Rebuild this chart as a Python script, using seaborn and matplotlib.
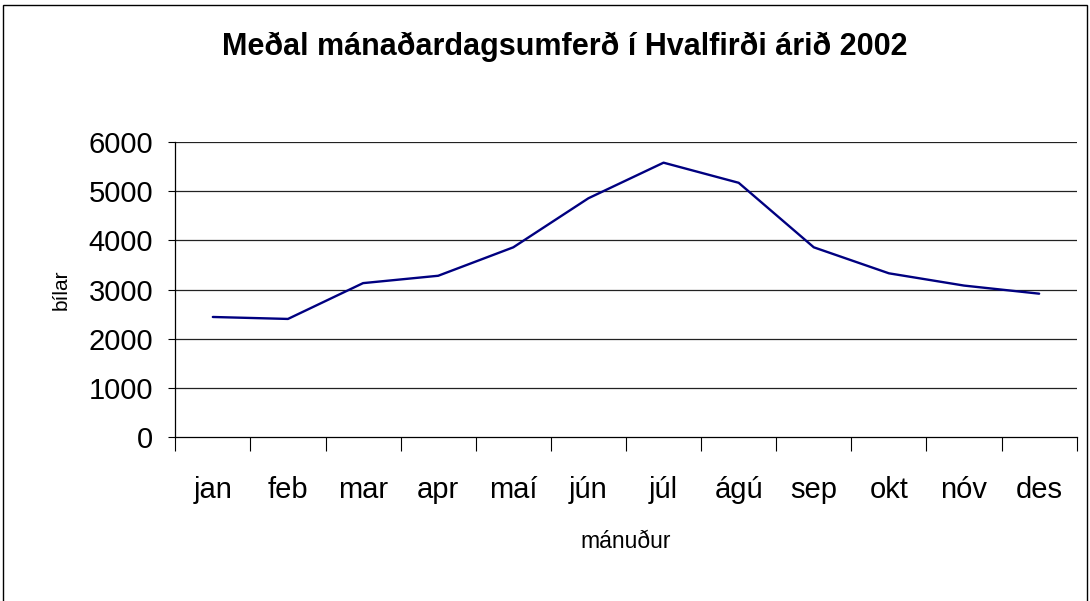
import matplotlib
matplotlib.use("Agg")
import matplotlib.pyplot as plt
import seaborn as sns
import numpy as np
import pandas as pd
from matplotlib.patches import Rectangle

# monthly average daily traffic, Hvalfjörður 2002
months = ["jan", "feb", "mar", "apr", "maí", "jún", "júl", "ágú", "sep", "okt", "nóv", "des"]
cars = [2440, 2400, 3130, 3280, 3860, 4860, 5585, 5175, 3860, 3330, 3080, 2915]
yticks = [0, 1000, 2000, 3000, 4000, 5000, 6000]

df = pd.DataFrame({"mánuður": months, "bílar": cars})

sns.set_style("white")
plt.rcParams["font.family"] = ["Liberation Sans", "DejaVu Sans"]
plt.rcParams["text.color"] = "black"
plt.rcParams["axes.labelcolor"] = "black"
plt.rcParams["xtick.color"] = "black"
plt.rcParams["ytick.color"] = "black"

fig = plt.figure(figsize=(10.9, 6.01), dpi=100)
ax = fig.add_axes([0.1608, 0.2734, 0.827, 0.4898])

sns.lineplot(data=df, x="mánuður", y="bílar", sort=False, color="#000080", linewidth=1.7, ax=ax)

ax.set_xlim(-0.5, len(months) - 0.5)
ax.set_ylim(0, 6000)
ax.set_yticks(yticks)
ax.set_yticklabels([str(t) for t in yticks], fontsize=21)
ax.set_xticks(range(len(months)))
ax.set_xticklabels(months, fontsize=21)
ax.set_xticks(np.arange(-0.5, len(months)), minor=True)
ax.tick_params(axis="x", which="both", bottom=True)
ax.tick_params(axis="x", which="major", length=0, pad=28)
ax.tick_params(axis="x", which="minor", length=10, width=0.8, color="black")
ax.tick_params(axis="y", length=5, width=0.8, color="black", pad=11, left=True)

for t in yticks[1:]:
    ax.axhline(t, color="#222222", linewidth=0.9, zorder=0)

for s in ["top", "right"]:
    ax.spines[s].set_visible(False)
for s in ["left", "bottom"]:
    ax.spines[s].set_color("black")
    ax.spines[s].set_linewidth(0.9)

ax.set_xlabel("mánuður", fontsize=16.5, labelpad=19)
ax.set_ylabel("bílar", fontsize=15, labelpad=13)

fig.suptitle("Meðal mánaðardagsumferð í Hvalfirði árið 2002", fontsize=22, fontweight="bold",
             x=0.518, y=0.947)

# outer chart frame
fig.patches.append(Rectangle((3 / 1090, -0.05), 1084 / 1090, 1.05 - 5 / 601, transform=fig.transFigure,
                             fill=False, edgecolor="black", linewidth=1.0))

fig.savefig("out.png", dpi=100)
